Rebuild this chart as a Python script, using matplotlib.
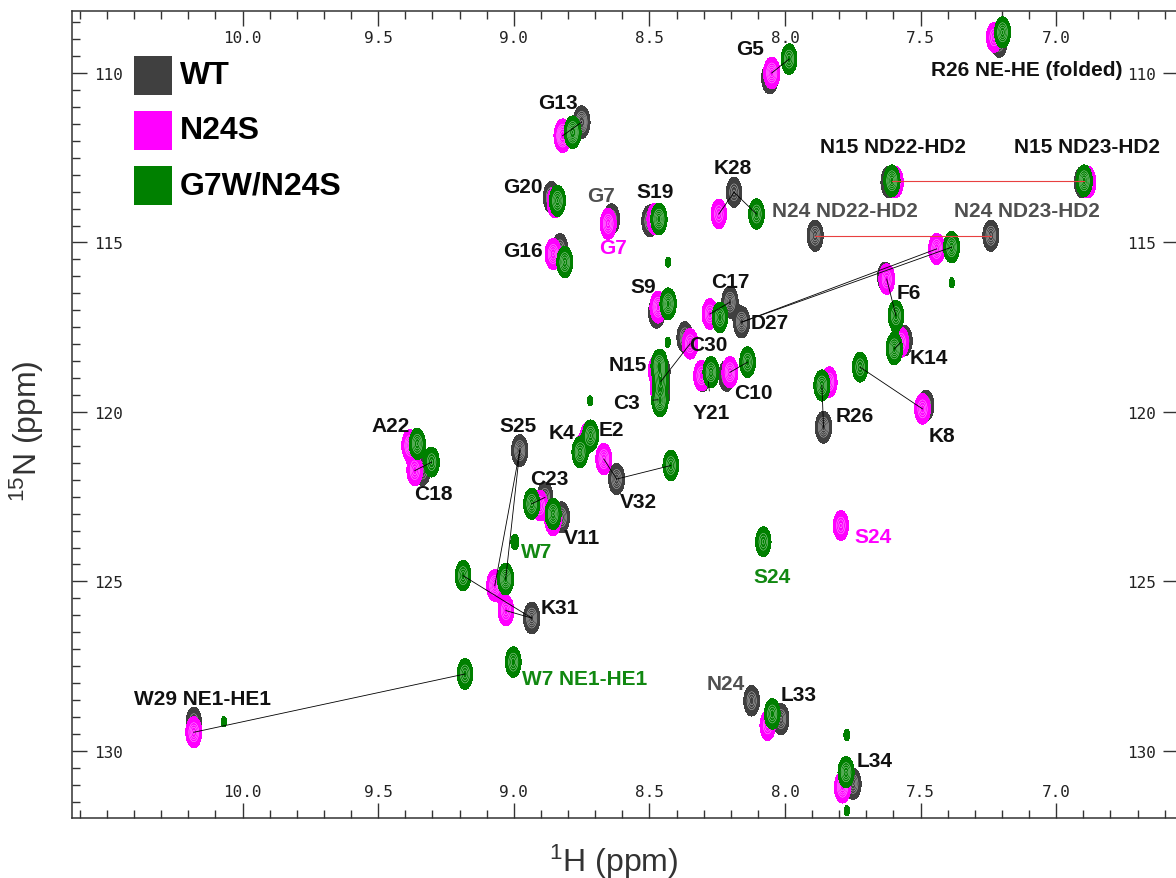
import numpy as np
import matplotlib.pyplot as plt
from matplotlib.patches import Rectangle

plt.rcParams['font.family'] = ['Liberation Sans', 'DejaVu Sans']
plt.rcParams['mathtext.default'] = 'regular'

# ---- peak lists: 1H (ppm), 15N (ppm), relative height ----
wt_names = ['G5', 'R26NE', 'G13', 'G20', 'G7', 'S19', 'K28', 'N15ND22', 'N15ND23',
            'N24ND22', 'N24ND23', 'G16', 'S9', 'C17', 'D27', 'C30', 'N15', 'C3', 'Y21',
            'C10', 'F6', 'K14', 'R26', 'K8', 'A22', 'C18', 'S25', 'K4', 'E2', 'V32',
            'C23', 'V11', 'K31', 'N24', 'L33', 'L34', 'W29']
wt_h = [8.056, 7.210, 8.750, 8.861, 8.639, 8.498, 8.188, 7.616, 6.903,
        7.889, 7.241, 8.830, 8.473, 8.203, 8.160, 8.369, 8.455, 8.455, 8.303,
        8.215, 7.630, 7.560, 7.858, 7.480, 9.376, 9.336, 8.978, 8.756, 8.727, 8.621,
        8.885, 8.824, 8.934, 8.123, 8.015, 7.749, 10.180]
wt_n = [110.15, 109.09, 111.45, 113.67, 114.31, 114.36, 113.52, 113.22, 113.22,
        114.80, 114.80, 115.19, 117.06, 116.76, 117.35, 117.80, 118.82, 119.47, 118.97,
        118.93, 116.02, 117.90, 120.45, 119.81, 121.03, 121.73, 121.14, 121.24, 120.80, 121.98,
        122.52, 123.11, 126.08, 128.52, 129.06, 130.97, 129.15]
wt_amp = [12, 10, 14, 12, 10, 12, 9, 12, 12,
          11, 11, 10, 12, 12, 12, 11, 14, 12, 8,
          11, 9, 10, 12, 10, 8, 9, 12, 6, 6, 11,
          10, 11, 12, 10, 11, 11, 9]

n24s_names = ['G5', 'R26NE', 'G13', 'G20', 'G7', 'S19', 'K28', 'N15ND22', 'N15ND23',
              'D27', 'G16', 'S9', 'C17', 'C30', 'N15', 'C3', 'Y21', 'C10', 'F6', 'K14',
              'R26', 'K8', 'S24', 'A22', 'C18', 'K4', 'E2', 'V32', 'C23', 'V11',
              'S25', 'K31', 'L33', 'L34', 'W29']
n24s_h = [8.049, 7.229, 8.820, 8.848, 8.652, 8.479, 8.244, 7.594, 6.884,
          7.441, 8.855, 8.468, 8.277, 8.350, 8.473, 8.465, 8.308, 8.203, 7.625, 7.573,
          7.837, 7.493, 7.794, 9.383, 9.365, 8.756, 8.726, 8.668, 8.904, 8.855,
          9.070, 9.029, 8.064, 7.788, 10.180]
n24s_n = [110.00, 108.95, 111.85, 113.81, 114.45, 114.31, 114.16, 113.22, 113.22,
          115.19, 115.34, 116.91, 117.11, 117.99, 118.78, 119.41, 118.93, 118.83, 116.08, 117.94,
          119.12, 119.91, 123.35, 120.99, 121.73, 121.15, 120.74, 121.39, 122.76, 123.19,
          125.12, 125.86, 129.25, 131.07, 129.45]
n24s_amp = [12, 9, 16, 11, 11, 12, 9, 12, 12,
            11, 11, 12, 10, 10, 13, 11, 10, 11, 10, 10,
            10, 10, 9, 12, 10, 7, 9, 11, 10, 11,
            12, 10, 9, 12, 11]

g7w_names = ['G5', 'R26NE', 'G13', 'G20', 'S19', 'K28', 'N15ND22', 'N15ND23', 'D27',
             'G16', 'S9', 'C17', 'N15', 'C30', 'C3', 'Y21', 'C10', 'F6', 'K14', 'R26',
             'K8', 'S24', 'A22', 'C18', 'K4', 'E2', 'V32', 'C23', 'V11', 'W7',
             'S25', 'K31', 'W7NE', 'W29', 'L33', 'L34',
             'x1', 'x2', 'x3', 'x4', 'x5', 'x6', 'x7']
g7w_h = [7.985, 7.198, 8.783, 8.839, 8.465, 8.105, 7.606, 6.897, 7.386,
         8.812, 8.431, 8.240, 8.464, 8.458, 8.461, 8.273, 8.138, 7.591, 7.597, 7.864,
         7.723, 8.080, 9.356, 9.303, 8.756, 8.717, 8.421, 8.934, 8.855, 8.996,
         9.030, 9.187, 9.002, 9.180, 8.047, 7.775,
         7.385, 8.719, 8.431, 10.069, 7.772, 7.772, 8.432]
g7w_n = [109.59, 108.80, 111.75, 113.77, 114.31, 114.16, 113.18, 113.18, 115.14,
         115.58, 116.81, 117.21, 118.63, 119.10, 119.67, 118.83, 118.53, 117.16, 118.14, 119.22,
         118.68, 123.83, 120.94, 121.48, 121.19, 120.70, 121.58, 122.71, 123.01, 123.84,
         124.93, 124.83, 127.38, 127.73, 128.91, 130.63,
         116.19, 119.67, 115.58, 129.14, 129.53, 131.76, 117.94]
g7w_amp = [10, 11, 14, 11, 12, 10, 12, 12, 11,
           11, 12, 10, 12, 9, 12, 11, 10, 10, 12, 11,
           9, 9, 11, 9, 11, 11, 10, 11, 11, 1.8,
           12, 10, 10, 10, 10, 11,
           1.3, 1.3, 1.3, 1.3, 1.4, 1.3, 1.3]

# ---- residue labels: text, 1H, 15N, colour key ----
labels = [
    ('G5', 8.129, 109.29, 'k'), ('R26 NE-HE (folded)', 7.108, 109.91, 'k'),
    ('G13', 8.837, 110.88, 'k'), ('K28', 8.192, 112.80, 'k'),
    ('N15 ND22-HD2', 7.602, 112.18, 'k'), ('N15 ND23-HD2', 6.887, 112.18, 'k'),
    ('N24 ND22-HD2', 7.779, 114.07, 'g'), ('N24 ND23-HD2', 7.108, 114.07, 'g'),
    ('G20', 8.966, 113.36, 'k'), ('G7', 8.679, 113.60, 'g'), ('S19', 8.480, 113.51, 'k'),
    ('G7', 8.635, 115.16, 'm'), ('G16', 8.966, 115.25, 'k'), ('S9', 8.523, 116.31, 'k'),
    ('C17', 8.203, 116.14, 'k'), ('D27', 8.055, 117.37, 'k'), ('F6', 7.543, 116.49, 'k'),
    ('K14', 7.469, 118.38, 'k'), ('R26', 7.742, 120.09, 'k'), ('K8', 7.421, 120.68, 'k'),
    ('S24', 7.676, 123.66, 'm'), ('C30', 8.284, 118.02, 'k'), ('N15', 8.580, 118.61, 'k'),
    ('C10', 8.115, 119.44, 'k'), ('S25', 8.985, 120.41, 'k'), ('K4', 8.823, 120.62, 'k'),
    ('E2', 8.642, 120.53, 'k'), ('A22', 9.453, 120.41, 'k'), ('C18', 9.295, 122.42, 'k'),
    ('V32', 8.539, 122.63, 'k'), ('C23', 8.870, 121.95, 'k'), ('V11', 8.749, 123.69, 'k'),
    ('W7', 8.915, 124.13, 'G'), ('S24', 8.048, 124.84, 'G'), ('K31', 8.830, 125.78, 'k'),
    ('W7 NE1-HE1', 8.738, 127.85, 'G'), ('N24', 8.218, 128.02, 'g'),
    ('L33', 7.949, 128.35, 'k'), ('L34', 7.668, 130.27, 'k'),
    ('W29 NE1-HE1', 10.146, 128.44, 'k'),
]
# labels with a leader line: text, label 1H, label 15N, target 1H, target 15N
leaders = [('C3', 8.583, 119.71, 8.468, 119.64), ('Y21', 8.270, 120.03, 8.283, 119.09)]

# ---- shift connections ----
links = [
    ('N24S', 'G5', 'G7W', 'G5'), ('N24S', 'G13', 'WT', 'G13'),
    ('WT', 'K28', 'N24S', 'K28'), ('WT', 'K28', 'G7W', 'K28'),
    ('WT', 'D27', 'N24S', 'D27'), ('WT', 'D27', 'G7W', 'D27'),
    ('N24S', 'F6', 'G7W', 'F6'), ('N24S', 'K14', 'G7W', 'K14'),
    ('G7W', 'R26', 'WT', 'R26'), ('G7W', 'K8', 'N24S', 'K8'),
    ('N24S', 'C17', 'WT', 'C17'), ('N24S', 'C30', 'G7W', 'C30'),
    ('N24S', 'C10', 'G7W', 'C10'), ('N24S', 'C18', 'G7W', 'C18'),
    ('N24S', 'V32', 'WT', 'V32'), ('WT', 'V32', 'G7W', 'V32'),
    ('G7W', 'C23', 'WT', 'C23'),
    ('WT', 'S25', 'N24S', 'S25'), ('WT', 'S25', 'G7W', 'S25'),
    ('WT', 'K31', 'G7W', 'K31'), ('WT', 'K31', 'N24S', 'K31'),
    ('N24S', 'W29', 'G7W', 'W29'),
]
red_links = [('G7W', 'N15ND22', 'G7W', 'N15ND23'), ('WT', 'N24ND22', 'WT', 'N24ND23')]

spectra = {
    'WT': (wt_names, wt_h, wt_n, wt_amp, '#404040'),
    'N24S': (n24s_names, n24s_h, n24s_n, n24s_amp, '#ff00ff'),
    'G7W': (g7w_names, g7w_h, g7w_n, g7w_amp, '#008000'),
}
legend_names = {'WT': 'WT', 'N24S': 'N24S', 'G7W': 'G7W/N24S'}
text_colors = {'k': '#111111', 'g': '#505050', 'm': '#ff00ff', 'G': '#118811'}

# grid for the contour surfaces
X = np.linspace(6.5, 10.7, 1600)
Y = np.linspace(108.0, 132.2, 1200)


def surface(h, n, amp, sx=0.0135, sy=0.21):
    h = np.asarray(h)[:, None]
    n = np.asarray(n)[:, None]
    gx = np.exp(-0.5 * ((X[None, :] - h) / sx) ** 2)
    gy = np.exp(-0.5 * ((Y[None, :] - n) / sy) ** 2)
    return (gy.T * np.asarray(amp, float)) @ gx


fig = plt.figure(figsize=(11.76, 8.79), dpi=100)
ax = fig.add_axes([72 / 1176, 1 - 818.7 / 879, 1106 / 1176, 806.4 / 879])

for z, key in enumerate(['WT', 'N24S', 'G7W']):
    names, h, n, amp, col = spectra[key]
    Z = surface(h, n, amp)
    ax.contourf(X, Y, Z, levels=[1.0, 1e6], colors=[col], zorder=1 + z)
    ax.contour(X, Y, Z, levels=[4.5, 6.5, 8.5, 10.5, 13.5], colors='white',
               linewidths=0.3, alpha=0.8, zorder=1 + z)

pos = {k: dict(zip(v[0], zip(v[1], v[2]))) for k, v in spectra.items()}
for sa, ra, sb, rb in links:
    (x1, y1), (x2, y2) = pos[sa][ra], pos[sb][rb]
    ax.plot([x1, x2], [y1, y2], color='black', lw=0.6, zorder=5)
for sa, ra, sb, rb in red_links:
    (x1, y1), (x2, y2) = pos[sa][ra], pos[sb][rb]
    ax.plot([x1, x2], [y1, y2], color='#e84040', lw=0.8, zorder=5)

for txt, x, y, c in labels:
    ax.text(x, y, txt, ha='center', va='center', fontsize=15, fontweight='bold',
            color=text_colors[c], zorder=6)
for txt, x, y, tx, ty in leaders:
    ax.annotate(txt, xy=(tx, ty), xytext=(x, y), ha='center', va='center',
                fontsize=15, fontweight='bold', color=text_colors['k'], zorder=6,
                arrowprops=dict(arrowstyle='-', lw=0.6, color='black',
                                shrinkA=7, shrinkB=0))

# legend squares
for i, key in enumerate(['WT', 'N24S', 'G7W']):
    yb = 0.8962 - i * 0.0682
    ax.add_patch(Rectangle((0.0561, yb), 0.0343, 0.0484, transform=ax.transAxes,
                           facecolor=spectra[key][4], edgecolor='none', zorder=7))
    ax.text(0.0976, yb + 0.0242, legend_names[key], transform=ax.transAxes,
            ha='left', va='center', fontsize=23, fontweight='bold', color='black', zorder=7)

ax.set_xlim(10.629, 6.551)
ax.set_ylim(131.97, 108.18)
ax.set_xticks(np.arange(7.0, 10.01, 0.5))
ax.set_xticks(np.arange(6.6, 10.61, 0.1), minor=True)
ax.set_yticks(np.arange(110, 131, 5))
ax.set_yticks(np.arange(108.5, 131.6, 0.5), minor=True)
ax.set_xticklabels([f'{v:.1f}' for v in np.arange(7.0, 10.01, 0.5)])

ax.tick_params(which='both', direction='in', color='#333333', width=1.0,
               top=True, bottom=True, left=True, right=True,
               labeltop=True, labelbottom=True, labelleft=True, labelright=True,
               labelsize=11.5, labelcolor='#222222')
ax.tick_params(which='major', length=11)
ax.tick_params(which='minor', length=6)
ax.tick_params(axis='y', which='minor', right=False)
ax.tick_params(axis='x', which='major', pad=-24)
ax.tick_params(axis='y', which='major', pad=-37)
for tk in ax.xaxis.get_major_ticks() + ax.yaxis.get_major_ticks():
    tk.label1.set_fontfamily('DejaVu Sans Mono')
    tk.label2.set_fontfamily('DejaVu Sans Mono')

for s in ax.spines.values():
    s.set_color('#333333')
    s.set_linewidth(1.1)

fig.text(614 / 1176, 1 - 862 / 879, '$^{1}$H (ppm)', ha='center', va='center',
         fontsize=23, color='#333333')
fig.text(27 / 1176, 1 - 431 / 879, '$^{15}$N (ppm)', ha='center', va='center',
         fontsize=23, color='#333333', rotation=90)

fig.savefig('out.png', dpi=100)
